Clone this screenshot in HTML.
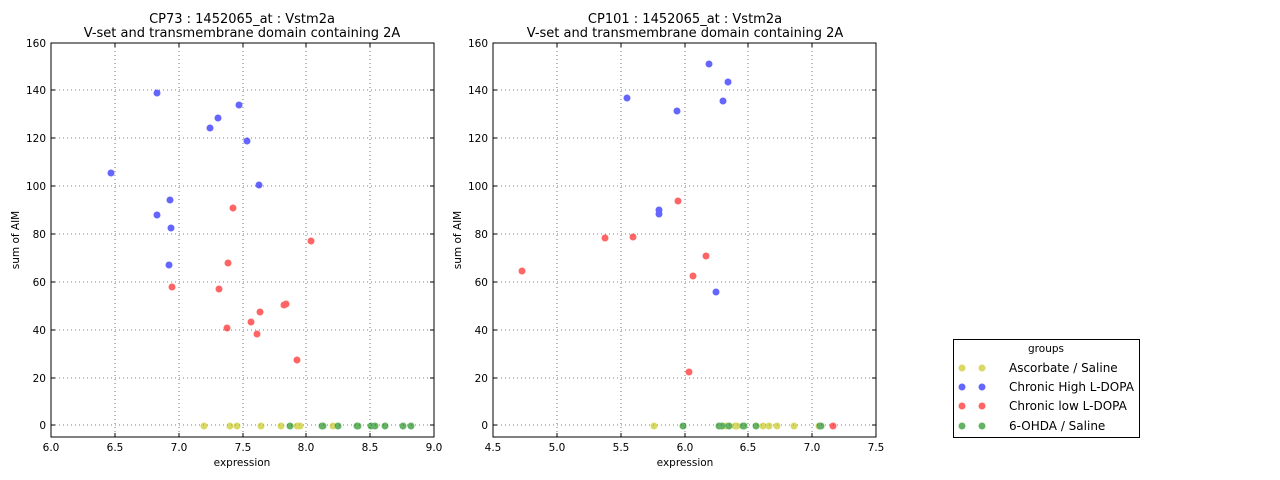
<!DOCTYPE html>
<html><head><style>body{margin:0;background:#fff}svg{display:block}text{font-family:"DejaVu Sans","Liberation Sans",sans-serif;fill:#000}</style></head><body>
<svg width="1280" height="480" xmlns="http://www.w3.org/2000/svg">
<g font-size="10.5">
<g stroke="#555" stroke-dasharray="1,3" stroke-width="0.8">
<line x1="115" y1="43" x2="115" y2="437"/><line x1="179" y1="43" x2="179" y2="437"/><line x1="243" y1="43" x2="243" y2="437"/><line x1="306" y1="43" x2="306" y2="437"/><line x1="370" y1="43" x2="370" y2="437"/>
<line x1="51" y1="90" x2="434" y2="90"/><line x1="51" y1="138" x2="434" y2="138"/><line x1="51" y1="186" x2="434" y2="186"/><line x1="51" y1="234" x2="434" y2="234"/><line x1="51" y1="282" x2="434" y2="282"/><line x1="51" y1="330" x2="434" y2="330"/><line x1="51" y1="378" x2="434" y2="378"/><line x1="51" y1="425" x2="434" y2="425"/>
<line x1="557" y1="43" x2="557" y2="437"/><line x1="621" y1="43" x2="621" y2="437"/><line x1="685" y1="43" x2="685" y2="437"/><line x1="748" y1="43" x2="748" y2="437"/><line x1="812" y1="43" x2="812" y2="437"/>
<line x1="493" y1="90" x2="876" y2="90"/><line x1="493" y1="138" x2="876" y2="138"/><line x1="493" y1="186" x2="876" y2="186"/><line x1="493" y1="234" x2="876" y2="234"/><line x1="493" y1="282" x2="876" y2="282"/><line x1="493" y1="330" x2="876" y2="330"/><line x1="493" y1="378" x2="876" y2="378"/><line x1="493" y1="425" x2="876" y2="425"/>
</g>
<g opacity="0.6">
<g fill="#0000ff"><circle cx="157" cy="93" r="3.5"/><circle cx="111" cy="173" r="3.5"/><circle cx="218" cy="118" r="3.5"/><circle cx="210" cy="128" r="3.5"/><circle cx="239" cy="105" r="3.5"/><circle cx="247" cy="141" r="3.5"/><circle cx="259" cy="185" r="3.5"/><circle cx="157" cy="215" r="3.5"/><circle cx="170" cy="200" r="3.5"/><circle cx="171" cy="228" r="3.5"/><circle cx="169" cy="265" r="3.5"/>
<circle cx="709" cy="64" r="3.5"/><circle cx="728" cy="82" r="3.5"/><circle cx="627" cy="98" r="3.5"/><circle cx="677" cy="111" r="3.5"/><circle cx="723" cy="101" r="3.5"/><circle cx="659" cy="210" r="3.5"/><circle cx="659" cy="214" r="3.5"/><circle cx="716" cy="292" r="3.5"/></g>
<g fill="#ff0000"><circle cx="233" cy="208" r="3.5"/><circle cx="311" cy="241" r="3.5"/><circle cx="228" cy="263" r="3.5"/><circle cx="172" cy="287" r="3.5"/><circle cx="219" cy="289" r="3.5"/><circle cx="260" cy="312" r="3.5"/><circle cx="286" cy="304" r="3.5"/><circle cx="284" cy="305" r="3.5"/><circle cx="227" cy="328" r="3.5"/><circle cx="251" cy="322" r="3.5"/><circle cx="257" cy="334" r="3.5"/><circle cx="297" cy="360" r="3.5"/>
<circle cx="678" cy="201" r="3.5"/><circle cx="605" cy="238" r="3.5"/><circle cx="633" cy="237" r="3.5"/><circle cx="706" cy="256" r="3.5"/><circle cx="693" cy="276" r="3.5"/><circle cx="522" cy="271" r="3.5"/><circle cx="689" cy="372" r="3.5"/><circle cx="833" cy="426" r="3.5"/></g>
<g fill="#bfbf00"><circle cx="204" cy="426" r="3.5"/><circle cx="230" cy="426" r="3.5"/><circle cx="237" cy="426" r="3.5"/><circle cx="261" cy="426" r="3.5"/><circle cx="281" cy="426" r="3.5"/><circle cx="297" cy="426" r="3.5"/><circle cx="300" cy="426" r="3.5"/><circle cx="333" cy="426" r="3.5"/>
<circle cx="654" cy="426" r="3.5"/><circle cx="726" cy="426" r="3.5"/><circle cx="735" cy="426" r="3.5"/><circle cx="737" cy="426" r="3.5"/><circle cx="763" cy="426" r="3.5"/><circle cx="769" cy="426" r="3.5"/><circle cx="777" cy="426" r="3.5"/><circle cx="794" cy="426" r="3.5"/><circle cx="819" cy="426" r="3.5"/></g>
<g fill="#008000"><circle cx="290" cy="426" r="3.5"/><circle cx="323" cy="426" r="3.5"/><circle cx="322" cy="426" r="3.5"/><circle cx="338" cy="426" r="3.5"/><circle cx="358" cy="426" r="3.5"/><circle cx="357" cy="426" r="3.5"/><circle cx="371" cy="426" r="3.5"/><circle cx="375" cy="426" r="3.5"/><circle cx="385" cy="426" r="3.5"/><circle cx="403" cy="426" r="3.5"/><circle cx="411" cy="426" r="3.5"/>
<circle cx="683" cy="426" r="3.5"/><circle cx="719" cy="426" r="3.5"/><circle cx="722" cy="426" r="3.5"/><circle cx="729" cy="426" r="3.5"/><circle cx="743" cy="426" r="3.5"/><circle cx="744" cy="426" r="3.5"/><circle cx="756" cy="426" r="3.5"/><circle cx="820" cy="426" r="3.5"/><circle cx="821" cy="426" r="3.5"/></g>
</g>
<rect x="51" y="43" width="383" height="394" fill="none" stroke="#000" stroke-width="1"/>
<rect x="493" y="43" width="383" height="394" fill="none" stroke="#000" stroke-width="1"/>
<g stroke="#000">
<path d="M115 437v-4M179 437v-4M243 437v-4M306 437v-4M370 437v-4M115 43v4M179 43v4M243 43v4M306 43v4M370 43v4"/>
<path d="M557 437v-4M621 437v-4M685 437v-4M748 437v-4M812 437v-4M557 43v4M621 43v4M685 43v4M748 43v4M812 43v4"/>
<path d="M51 90h4M51 138h4M51 186h4M51 234h4M51 282h4M51 330h4M51 378h4M51 425h4M434 90h-4M434 138h-4M434 186h-4M434 234h-4M434 282h-4M434 330h-4M434 378h-4M434 425h-4"/>
<path d="M493 90h4M493 138h4M493 186h4M493 234h4M493 282h4M493 330h4M493 378h4M493 425h4M876 90h-4M876 138h-4M876 186h-4M876 234h-4M876 282h-4M876 330h-4M876 378h-4M876 425h-4"/>
</g>
<g text-anchor="middle">
<text x="51" y="451">6.0</text><text x="115" y="451">6.5</text><text x="179" y="451">7.0</text><text x="243" y="451">7.5</text><text x="306" y="451">8.0</text><text x="370" y="451">8.5</text><text x="434" y="451">9.0</text>
<text x="493" y="451">4.5</text><text x="557" y="451">5.0</text><text x="621" y="451">5.5</text><text x="685" y="451">6.0</text><text x="748" y="451">6.5</text><text x="812" y="451">7.0</text><text x="876" y="451">7.5</text>
<text x="242" y="466">expression</text><text x="685" y="466">expression</text>
</g>
<g text-anchor="end">
<text x="46" y="47">160</text><text x="46" y="94">140</text><text x="46" y="142">120</text><text x="46" y="190">100</text><text x="46" y="238">80</text><text x="46" y="286">60</text><text x="46" y="334">40</text><text x="46" y="382">20</text><text x="46" y="429">0</text>
<text x="488" y="47">160</text><text x="488" y="94">140</text><text x="488" y="142">120</text><text x="488" y="190">100</text><text x="488" y="238">80</text><text x="488" y="286">60</text><text x="488" y="334">40</text><text x="488" y="382">20</text><text x="488" y="429">0</text>
</g>
<text transform="translate(19,240) rotate(-90)" text-anchor="middle">sum of AIM</text>
<text transform="translate(461,240) rotate(-90)" text-anchor="middle">sum of AIM</text>
</g>
<g font-size="13" text-anchor="middle">
<text x="242" y="23">CP73 : 1452065_at : Vstm2a</text><text x="242" y="37">V-set and transmembrane domain containing 2A</text>
<text x="685" y="23">CP101 : 1452065_at : Vstm2a</text><text x="685" y="37">V-set and transmembrane domain containing 2A</text>
</g>
<rect x="953.5" y="339.5" width="186" height="98" fill="#fff" stroke="#000"/>
<text x="1046" y="352" font-size="10.5" text-anchor="middle">groups</text>
<g opacity="0.6">
<circle cx="962" cy="368" r="3.5" fill="#bfbf00"/><circle cx="982" cy="368" r="3.5" fill="#bfbf00"/>
<circle cx="962" cy="387" r="3.5" fill="#0000ff"/><circle cx="982" cy="387" r="3.5" fill="#0000ff"/>
<circle cx="962" cy="406" r="3.5" fill="#ff0000"/><circle cx="982" cy="406" r="3.5" fill="#ff0000"/>
<circle cx="962" cy="426" r="3.5" fill="#008000"/><circle cx="982" cy="426" r="3.5" fill="#008000"/>
</g>
<g font-size="12">
<text x="1009" y="372">Ascorbate / Saline</text><text x="1009" y="391">Chronic High L-DOPA</text><text x="1009" y="410">Chronic low L-DOPA</text><text x="1009" y="430">6-OHDA / Saline</text>
</g>
</svg>
</body></html>
